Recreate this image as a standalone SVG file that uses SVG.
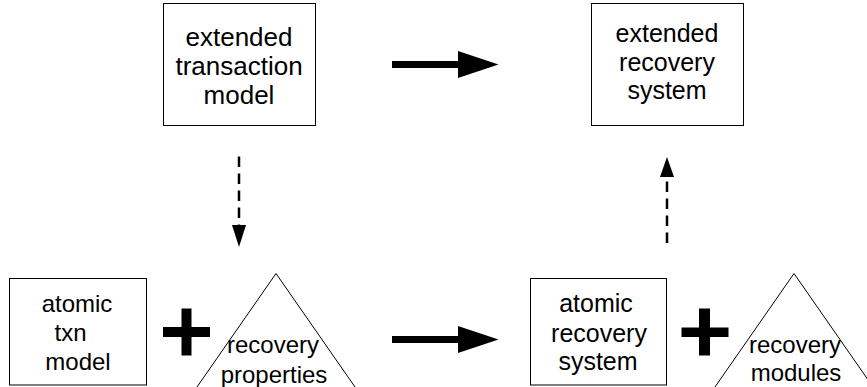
<svg xmlns="http://www.w3.org/2000/svg" width="867" height="387" viewBox="0 0 867 387">
<style>
.box{fill:#fff;stroke:#000;stroke-width:1}
.tri{fill:#fff;stroke:#000;stroke-width:1}
.t{font-family:"Liberation Sans",Arial,sans-serif;fill:#000;text-anchor:middle}
.dash{stroke:#000;stroke-width:2.5;fill:none;stroke-dasharray:10.5 6.5}
.solid{fill:#000}
</style>
<rect width="867" height="387" fill="#fff"/>
<g id="ext-txn-model">
<rect class="box" x="163.5" y="3.5" width="152" height="122"/>
<text class="t" font-size="26"><tspan x="239" y="46">extended</tspan><tspan x="239" y="75">transaction</tspan><tspan x="239" y="103.5">model</tspan></text>
</g>
<g id="ext-recovery-system">
<rect class="box" x="591.5" y="3.5" width="152" height="122"/>
<text class="t" font-size="25"><tspan x="667" y="42">extended</tspan><tspan x="667" y="70.5">recovery</tspan><tspan x="667" y="99">system</tspan></text>
</g>
<g id="atomic-txn-model">
<rect class="box" x="9.5" y="278.5" width="137" height="106.5"/>
<text class="t" font-size="24"><tspan x="77" y="312">atomic</tspan><tspan x="70.5" y="341">txn</tspan><tspan x="78" y="370">model</tspan></text>
</g>
<g id="recovery-properties">
<polygon class="tri" points="276,273.5 194.9,390 357.1,390"/>
<text class="t" font-size="24"><tspan x="273" y="353">recovery</tspan><tspan x="274" y="383">properties</tspan></text>
</g>
<g id="atomic-recovery-system">
<rect class="box" x="530.5" y="278.5" width="136" height="106.5"/>
<text class="t" font-size="25"><tspan x="596" y="312">atomic</tspan><tspan x="599" y="341.5">recovery</tspan><tspan x="598" y="370">system</tspan></text>
</g>
<g id="recovery-modules">
<polygon class="tri" points="794,273.5 712.9,390 875.1,390"/>
<text class="t" font-size="24"><tspan x="795" y="353">recovery</tspan><tspan x="796" y="381">modules</tspan></text>
</g>
<g id="plus-left" class="solid">
<rect x="163" y="327" width="47" height="10"/>
<rect x="181.5" y="308.5" width="10" height="47"/>
</g>
<g id="plus-right" class="solid">
<rect x="681.5" y="327.5" width="47" height="9.5"/>
<rect x="699" y="308.5" width="11" height="47"/>
</g>
<g id="connectors">
<g class="solid">
<rect x="392" y="61" width="67" height="7"/>
<polygon points="458,51 498.5,64.5 458,78"/>
<rect x="392" y="336" width="67" height="7"/>
<polygon points="458,326 498.5,339.5 458,353"/>
</g>
<line class="dash" x1="239" y1="156.5" x2="239" y2="226"/>
<polygon class="solid" points="232,225 246,225 239,247"/>
<line class="dash" x1="667" y1="243" x2="667" y2="177"/>
<polygon class="solid" points="660,177 674,177 667,157"/>
</g>
</svg>
